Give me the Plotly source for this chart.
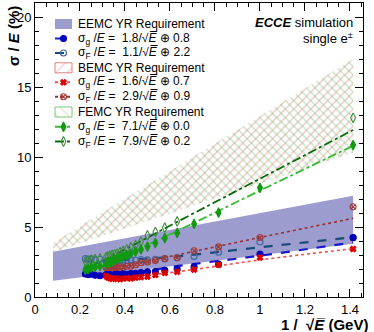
import plotly.graph_objects as go

# ---------------- data ----------------
X_LOWE = [0.224, 0.236, 0.250, 0.267, 0.289]
X_MAIN = [0.316, 0.324, 0.333, 0.343, 0.354, 0.365, 0.378, 0.392, 0.408, 0.426,
          0.447, 0.471, 0.500, 0.535, 0.577, 0.632, 0.707, 0.816, 1.000, 1.414]
X_EEMC = X_LOWE + X_MAIN
X_BEMC = X_MAIN
X_FEMC_G = X_LOWE + X_MAIN
X_FEMC_F = X_LOWE + X_MAIN[:16] + [1.414]

EEMC_G = [1.65, 1.60, 1.62, 1.55, 1.52,
          1.60, 1.55, 1.60, 1.55, 1.60, 1.62, 1.60, 1.65, 1.62, 1.68,
          1.70, 1.75, 1.80, 1.82, 1.90, 2.00, 2.15, 2.35, 3.07, 4.24]
EEMC_F = [2.75, 2.70, 2.72, 2.65, 2.70,
          2.55, 2.60, 2.55, 2.60, 2.55, 2.60, 2.58, 2.62, 2.60, 2.65,
          2.62, 2.68, 2.65, 2.70, 2.72, 2.80, 2.90, 3.20, 3.93, 4.25]
BEMC_G = [1.50, 1.40, 1.35, 1.30, 1.35, 1.30, 1.28, 1.32, 1.35, 1.33,
          1.38, 1.42, 1.45, 1.57, 1.72, 1.80, 1.95, 2.30, 2.82, 3.43]
BEMC_F = [2.10, 2.05, 2.10, 2.05, 2.10, 2.10, 2.15, 2.10, 2.20, 2.20,
          2.30, 2.45, 2.50, 2.60, 2.75, 2.80, 3.30, 3.58, 4.25, 6.45]
FEMC_G = [1.95, 2.00, 2.10, 2.15, 2.20,
          2.35, 2.45, 2.50, 2.55, 2.65, 2.72, 2.80, 2.90, 3.00, 3.10,
          3.25, 3.40, 3.60, 3.85, 4.20, 4.58, 5.22, 6.02, 7.80, 10.85]
FEMC_F = [2.55, 2.60, 2.65, 2.70, 2.75,
          2.85, 2.90, 2.95, 3.00, 3.05, 3.10, 3.20, 3.30, 3.40, 3.55,
          3.70, 3.95, 4.40, 4.65, 4.95, 5.40, 12.80]

# fit curves
FIT_X_E = [0.22, 0.40, 0.63, 1.00, 1.414]
FIT_X_B = [0.31, 0.40, 0.63, 1.00, 1.414]
FIT_EEMC_G = [1.50, 1.65, 2.20, 2.95, 3.90]
FIT_EEMC_F = [2.55, 2.65, 2.90, 3.55, 4.27]
FIT_BEMC_G = [1.25, 1.40, 1.80, 2.65, 3.45]
FIT_BEMC_F = [2.05, 2.25, 3.00, 4.25, 5.62]
FIT_FEMC_G = [1.65, 3.00, 4.70, 7.60, 10.80]
FIT_FEMC_F = [2.00, 3.40, 5.35, 8.45, 11.93]

# legend fit parameters
FIT_A = ["1.8", "1.1", "1.6", "2.9", "7.1", "7.9"]
FIT_B = ["0.8", "2.2", "0.7", "0.9", "0.0", "0.2"]

# YR requirement bands
REQ_X = [0.08, 1.414]
EEMC_LO = [1.16, 3.80]
EEMC_HI = [3.24, 7.24]
BEMC_LO = [3.20, 10.30]
BEMC_HI = [3.88, 17.00]
FEMC_LO = [3.20, 10.30]
FEMC_HI = [3.88, 17.00]

# ---------------- geometry / style ----------------
W, H = 374, 332
L, R, T, B = 35, 363, 3, 297
X_RANGE = [0, 1.458]
Y_RANGE = [0, 21]
FONT = "Liberation Sans, Arial, Helvetica, sans-serif"

BAND_BLUE = "#9c9ccf"
HATCH_RED = "#e08080"
HATCH_GREEN = "#7cc87c"

C_EG, C_EGL = "#0000bb", "#1818cc"
C_EF, C_EFL = "#3b679f", "#1c4a78"
C_BG, C_BGL = "#dd0000", "#ff4a4a"
C_BF, C_BFL = "#a03a3a", "#9a3030"
C_FG, C_FGL = "#119911", "#33bb33"
C_FF, C_FFL = "#3d8d3d", "#0b6a0b"

SQRT_E = "√<i>E\u0305</i>"


def px2fx(px):
    return (px - L) / (R - L)


def py2fy(py):
    return (B - py) / (B - T)


def band_poly(x, lo, hi):
    return list(x) + list(x[::-1]), list(hi) + list(lo[::-1])


fig = go.Figure()

# hatched BEMC / FEMC requirements
bx, by = band_poly(REQ_X, BEMC_LO, BEMC_HI)
fig.add_trace(go.Scatter(x=bx, y=by, mode="lines", fill="toself",
                         line=dict(width=0, color="rgba(0,0,0,0)"),
                         fillcolor="rgba(0,0,0,0)",
                         fillpattern=dict(shape="/", fgcolor=HATCH_RED, bgcolor="rgba(0,0,0,0)",
                                          size=6, solidity=0.2),
                         hoverinfo="skip"))
fx, fy = band_poly(REQ_X, FEMC_LO, FEMC_HI)
fig.add_trace(go.Scatter(x=fx, y=fy, mode="lines", fill="toself",
                         line=dict(width=0, color="rgba(0,0,0,0)"),
                         fillcolor="rgba(0,0,0,0)",
                         fillpattern=dict(shape="\\", fgcolor=HATCH_GREEN, bgcolor="rgba(0,0,0,0)",
                                          size=6, solidity=0.2),
                         hoverinfo="skip"))
# EEMC solid band
ex, ey = band_poly(REQ_X, EEMC_LO, EEMC_HI)
fig.add_trace(go.Scatter(x=ex, y=ey, mode="lines", fill="toself",
                         line=dict(width=0, color=BAND_BLUE), fillcolor=BAND_BLUE,
                         hoverinfo="skip"))

# fit lines
fits = [
    (FIT_X_E, FIT_EEMC_G, C_EGL, "dash", 2.2),
    (FIT_X_E, FIT_EEMC_F, C_EFL, "dash", 2.2),
    (FIT_X_B, FIT_BEMC_G, C_BGL, "dot", 1.6),
    (FIT_X_B, FIT_BEMC_F, C_BFL, "dot", 1.6),
    (FIT_X_E, FIT_FEMC_G, C_FGL, "dashdot", 1.8),
    (FIT_X_E, FIT_FEMC_F, C_FFL, "dashdot", 1.8),
]
for xs, ys, c, d, w in fits:
    fig.add_trace(go.Scatter(x=xs, y=ys, mode="lines", line=dict(color=c, dash=d, width=w),
                             line_shape="spline", hoverinfo="skip"))

# markers
pts = [
    (X_EEMC, EEMC_F, C_EF, "circle-open", 6),
    (X_BEMC, BEMC_F, C_BF, "circle-x-open", 6),
    (X_FEMC_F, FEMC_F, C_FF, "diamond-tall-open", 7),
    (X_EEMC, EEMC_G, C_EG, "circle", 6),
    (X_BEMC, BEMC_G, C_BG, "x", 5),
    (X_FEMC_G, FEMC_G, C_FG, "diamond-tall", 7),
]
for xs, ys, c, s, sz in pts:
    fig.add_trace(go.Scatter(x=xs, y=ys, mode="markers",
                             marker=dict(symbol=s, size=sz, color=c,
                                         line=dict(width=1.1, color=c)),
                             hoverinfo="skip"))

# ---------------- legend (drawn on a hidden pixel-space overlay) ----------------
ROWS = [24, 38.5, 53, 67.8, 82.3, 96.8, 112, 126.8, 141.5]
IX0, IX1, IXM, TX = 55, 72, 63.5, 76
box_rows = [(ROWS[0], BAND_BLUE, None, "EEMC YR Requirement"),
            (ROWS[3], HATCH_RED, "/", "BEMC YR Requirement"),
            (ROWS[6], HATCH_GREEN, "\\", "FEMC YR Requirement")]
for r, c, pat, label in box_rows:
    xs = [IX0, IX1, IX1, IX0, IX0]
    ys = [r - 5, r - 5, r + 5, r + 5, r - 5]
    if pat is None:
        fig.add_trace(go.Scatter(x=xs, y=ys, xaxis="x2", yaxis="y2", mode="lines", fill="toself",
                                 fillcolor=c, line=dict(width=0, color=c), hoverinfo="skip"))
    else:
        fig.add_trace(go.Scatter(x=xs, y=ys, xaxis="x2", yaxis="y2", mode="lines", fill="toself",
                                 fillcolor="rgba(0,0,0,0)",
                                 fillpattern=dict(shape=pat, fgcolor=c, bgcolor="rgba(0,0,0,0)",
                                                  size=8, solidity=0.12),
                                 line=dict(width=1, color=c), hoverinfo="skip"))
    fig.add_annotation(x=TX, y=r, xref="x2", yref="y2", text=label, showarrow=False,
                       xanchor="left", yanchor="middle", font=dict(family=FONT, size=12, color="black"))

series_rows = [
    (ROWS[1], C_EGL, "dash", C_EG, "circle", 6, "g", 0),
    (ROWS[2], C_EFL, "dash", C_EF, "circle-open", 6, "F", 1),
    (ROWS[4], C_BGL, "dot", C_BG, "x", 5, "g", 2),
    (ROWS[5], C_BFL, "dot", C_BF, "circle-x-open", 6, "F", 3),
    (ROWS[7], C_FGL, "dashdot", C_FG, "diamond-tall", 7, "g", 4),
    (ROWS[8], C_FFL, "dashdot", C_FF, "diamond-tall-open", 7, "F", 5),
]
for r, lc, dash, mc, sym, sz, sub, k in series_rows:
    fig.add_trace(go.Scatter(x=[IX0, IX1], y=[r, r], xaxis="x2", yaxis="y2", mode="lines",
                             line=dict(color=lc, dash=dash, width=2), hoverinfo="skip"))
    fig.add_trace(go.Scatter(x=[IXM], y=[r], xaxis="x2", yaxis="y2", mode="markers",
                             marker=dict(symbol=sym, size=sz, color=mc, line=dict(width=1.1, color=mc)),
                             hoverinfo="skip"))
    txt = f"σ<sub>{sub}</sub> /<i>E</i> =  {FIT_A[k]}/{SQRT_E} ⊕ {FIT_B[k]}"
    fig.add_annotation(x=TX, y=r, xref="x2", yref="y2", text=txt, showarrow=False,
                       xanchor="left", yanchor="middle", font=dict(family=FONT, size=12, color="black"))

# ---------------- labels ----------------
fig.add_annotation(x=px2fx(355), y=py2fy(23), xref="paper", yref="paper",
                   text="<b><i>ECCE</i></b> simulation", showarrow=False,
                   xanchor="right", yanchor="middle", font=dict(family=FONT, size=13, color="black"))
fig.add_annotation(x=px2fx(355), y=py2fy(38), xref="paper", yref="paper",
                   text="single e<sup>±</sup>", showarrow=False,
                   xanchor="right", yanchor="middle", font=dict(family=FONT, size=13, color="black"))
fig.add_annotation(x=px2fx(370), y=py2fy(324), xref="paper", yref="paper",
                   text="<b>1 /  √<i>E\u0305</i> (GeV)</b>",
                   showarrow=False, xanchor="right", yanchor="middle",
                   font=dict(family=FONT, size=15, color="black"))
fig.add_annotation(x=px2fx(13), y=py2fy(4), xref="paper", yref="paper",
                   text="<b>σ / <i>E</i> (%)</b>", textangle=-90, showarrow=False,
                   xanchor="center", yanchor="top",
                   font=dict(family=FONT, size=15, color="black"))

axis_common = dict(showgrid=False, zeroline=False, showline=True, linecolor="black", linewidth=1,
                   mirror="allticks", ticks="inside", ticklen=8, tickwidth=1, tickcolor="black",
                   tickfont=dict(family=FONT, size=13, color="black"))
fig.update_layout(
    width=W, height=H, autosize=False,
    margin=dict(l=L, r=W - R, t=T, b=H - B, pad=0),
    paper_bgcolor="white", plot_bgcolor="white", showlegend=False,
    xaxis=dict(range=X_RANGE, tick0=0, dtick=0.2,
               minor=dict(ticks="inside", ticklen=4, dtick=0.05, tickcolor="black", showgrid=False),
               **axis_common),
    yaxis=dict(range=Y_RANGE, tick0=0, dtick=5,
               minor=dict(ticks="inside", ticklen=4, dtick=1, tickcolor="black", showgrid=False),
               **axis_common),
    xaxis2=dict(range=[L, R], overlaying="x", anchor="y2", visible=False),
    yaxis2=dict(range=[B, T], overlaying="y", anchor="x2", visible=False),
)

fig.write_html("out.html", config={"displayModeBar": False},
               post_script="document.body.style.margin='0px';document.body.style.padding='0px';")
